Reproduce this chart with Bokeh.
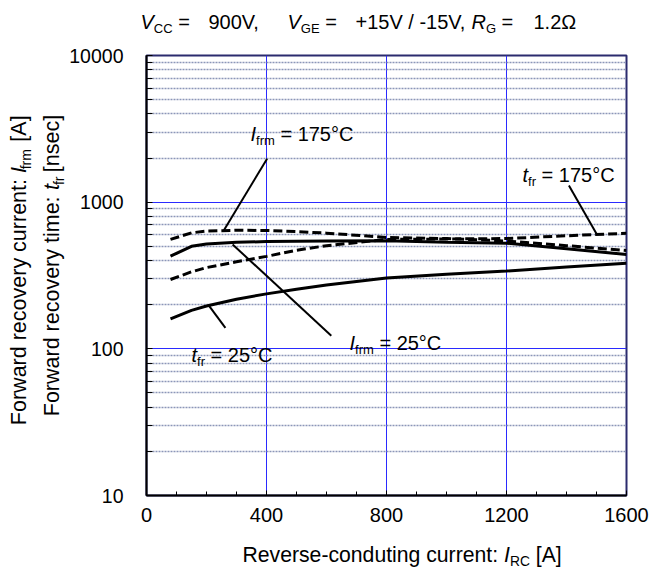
import math
from bokeh.plotting import figure
from bokeh.layouts import column, row
from bokeh.models import FixedTicker, NumeralTickFormatter, Range1d
from bokeh.core.properties import value
from bokeh.embed import file_html
from bokeh.resources import INLINE

# ---------------- data ----------------
i_rc = [80, 150, 200, 300, 400, 500, 600, 800, 1000, 1200, 1400, 1600]
ifrm_175 = [557, 618, 635, 644, 641, 630, 615, 575, 565, 543, 505, 468]
ifrm_25 = [428, 500, 518, 532, 539, 542, 543, 545, 533, 525, 482, 440]
tfr_175 = [297, 335, 358, 392, 427, 470, 505, 557, 561, 565, 590, 614]
tfr_25 = [160, 183, 196, 218, 237, 255, 272, 304, 322, 339, 361, 384]

x_ticks = [0, 400, 800, 1200, 1600]
x_minor = [100, 200, 300, 500, 600, 700, 900, 1000, 1100, 1300, 1400, 1500]
y_ticks = [10, 100, 1000, 10000]
y_minor = [k * d for d in (10, 100, 1000) for k in range(2, 10)]

# leader lines: (label end x, curve x), (label end y, curve y)
lead_ifrm175 = ([402, 258], [1977, 644])
lead_ifrm25 = ([287, 616], [515, 123])
lead_tfr25 = ([208, 263], [197, 139])
lead_tfr175 = ([1408, 1500], [1300, 609])

# ---------------- layout (canvas pixels) ----------------
W, H = 658, 574
FL, FR, FT, FB = 146, 626, 55, 495      # plot frame inside the whole canvas
TOP_H = 36                              # title strip
LW = 66                                 # y-title strip
MH = 500                                # main figure height
BOT_H = H - TOP_H - MH                  # x-title strip
FONT = "Liberation Sans"
BASE_FIX = 0.4                          # measured alphabetic-baseline correction
ROT_FIX = 0.118                         # measured drift of long rotated pieces


def blank(width, height, x0, y0):
    f = figure(width=width, height=height, output_backend="svg", toolbar_location=None,
               title=None,
               x_range=Range1d(x0, x0 + width), y_range=Range1d(-(y0 + height), -y0),
               x_axis_location=None, y_axis_location=None,
               min_border=0, min_border_left=0, min_border_right=0,
               min_border_top=0, min_border_bottom=0)
    f.grid.visible = False
    f.outline_line_color = None
    f.background_fill_color = "white"
    f.border_fill_color = "white"
    return f


p = figure(width=W - LW, height=MH, x_range=Range1d(0, 1600), y_range=Range1d(10, 10000),
           y_axis_type="log", output_backend="svg", toolbar_location=None, title=None,
           min_border_left=FL - LW, min_border_right=W - FR, min_border_top=FT - TOP_H,
           min_border_bottom=TOP_H + MH - FB)
p.background_fill_color = "white"
p.border_fill_color = "white"
p.outline_line_color = "#2b2b6e"
p.outline_line_width = 2

p.xaxis.ticker = FixedTicker(ticks=x_ticks, minor_ticks=x_minor)
p.yaxis.ticker = FixedTicker(ticks=y_ticks, minor_ticks=y_minor)
p.yaxis.formatter = NumeralTickFormatter(format="0")
for ax in (p.xaxis, p.yaxis):
    ax.axis_line_color = "black"
    ax.axis_line_width = 2
    ax.major_tick_line_color = "black"
    ax.minor_tick_line_color = "black"
    ax.major_tick_out = 0
    ax.minor_tick_out = 0
    ax.axis_label_standoff = 0
    ax.major_label_text_font = FONT
    ax.major_label_text_color = "black"
p.xaxis.major_label_text_font_size = "20px"
p.yaxis.major_label_text_font_size = "19.5px"
p.yaxis.major_tick_in = 6
p.yaxis.minor_tick_in = 6
p.xaxis.major_tick_in = 5
p.xaxis.minor_tick_in = 4
p.yaxis.major_label_standoff = 23
p.xaxis.major_label_standoff = 12

p.xgrid.ticker = FixedTicker(ticks=[400, 800, 1200])
p.xgrid.grid_line_color = "#2a2aff"
p.xgrid.grid_line_width = 1
p.ygrid.grid_line_color = "#2a2aff"
p.ygrid.grid_line_width = 1
p.ygrid.minor_grid_line_color = "#8c96b8"
p.ygrid.minor_grid_line_width = 1.5
p.ygrid.minor_grid_line_dash = "2 1"

# curves
p.line(i_rc, ifrm_175, line_color="black", line_width=3, line_dash="9 4")
p.line(i_rc, tfr_175, line_color="black", line_width=3, line_dash="9 4")
p.line(i_rc, ifrm_25, line_color="black", line_width=3)
p.line(i_rc, tfr_25, line_color="black", line_width=3)
for xs, ys in (lead_ifrm175, lead_ifrm25, lead_tfr25, lead_tfr175):
    p.line(xs, ys, line_color="black", line_width=2)

# ---------------- text helpers ----------------
AW = {' ': 278, ',': 278, '-': 333, '.': 278, '/': 278, ':': 278, '=': 584, '+': 584,
      '[': 278, ']': 278, '°': 400, 'Ω': 768, 'A': 667, 'C': 722, 'E': 667, 'F': 611,
      'G': 778, 'I': 278, 'R': 722, 'V': 667, 'a': 556, 'c': 500, 'd': 556, 'e': 556,
      'f': 278, 'g': 556, 'i': 222, 'm': 833, 'n': 556, 'o': 556, 'r': 333, 's': 500,
      't': 278, 'u': 556, 'v': 500, 'w': 722, 'y': 500}


def tw(s, size):
    return sum(AW.get(c, 556) for c in s) / 1000.0 * size


def main_conv(sx, sy):
    return (sx - FL) / (FR - FL) * 1600.0, 10 ** (4 - (sy - FT) / (FB - FT) * 3)


def plain_conv(sx, sy):
    return sx, -sy


def rich(fig, conv, segs, sx, sy, size, rotated=False):
    pos = 0.0
    for text, kind in segs:
        fs = size * 0.65 if kind == "sub" else size
        off = (size * 0.2 if kind == "sub" else 0.0) - BASE_FIX * fs
        lead = len(text) - len(text.lstrip(" "))
        start = pos + tw(" " * lead, fs)
        body = text.strip(" ")
        if body:
            if rotated:
                corr = ROT_FIX * tw(body, fs)
                x, y, ang = conv(sx + off, sy - start + corr) + (math.pi / 2,)
            else:
                x, y, ang = conv(sx + start, sy + off) + (0.0,)
            fig.text(x=[x], y=[y], text=[body], angle=ang,
                     text_font=value(FONT), text_font_size=value(f"{fs:.1f}px"),
                     text_font_style="italic" if kind == "i" else "normal",
                     text_color="black", text_align="left", text_baseline="alphabetic")
        pos += tw(text, fs)


# title strip (piece positions)
top = blank(W, TOP_H, 0, 0)
rich(top, plain_conv, [("V", "i"), ("CC", "sub"), (" =", "n")], 140, 29, 20)
rich(top, plain_conv, [("900V,", "n")], 208, 29, 20)
rich(top, plain_conv, [("V", "i"), ("GE", "sub"), (" =", "n")], 287, 29, 20)
rich(top, plain_conv, [("+15V / -15V,", "n")], 355, 29, 20)
rich(top, plain_conv, [("R", "i"), ("G", "sub"), (" =", "n")], 471, 29, 20)
rich(top, plain_conv, [("1.2Ω", "n")], 533, 29, 20)

# y-title strip (two lines reading upward)
left = blank(LW, MH, 0, TOP_H)
rich(left, plain_conv,
     [("Forward recovery current:  ", "n"), ("I", "i"), ("frm", "sub"), ("  [A]", "n")],
     27, 427, 21.5, rotated=True)
rich(left, plain_conv,
     [("Forward recovery time:  ", "n"), ("t", "i"), ("fr", "sub"), ("  [nsec]", "n")],
     60, 420, 21.5, rotated=True)

# x-title strip
bot = blank(W, BOT_H, 0, TOP_H + MH)
rich(bot, plain_conv,
     [("Reverse-conduting current: ", "n"), ("I", "i"), ("RC", "sub"), (" [A]", "n")],
     242, 562, 21.2)

# curve annotations
rich(p, main_conv, [("I", "i"), ("frm", "sub"), (" = 175°C", "n")], 250, 141, 20)
rich(p, main_conv, [("I", "i"), ("frm", "sub"), (" = 25°C", "n")], 349, 350, 20)
rich(p, main_conv, [("t", "i"), ("fr", "sub"), (" = 25°C", "n")], 191, 362, 20)
rich(p, main_conv, [("t", "i"), ("fr", "sub"), (" = 175°C", "n")], 522, 182, 20)

layout = column(top, row(left, p, spacing=0), bot, spacing=0)
open("out.html", "w").write(file_html(layout, INLINE))
